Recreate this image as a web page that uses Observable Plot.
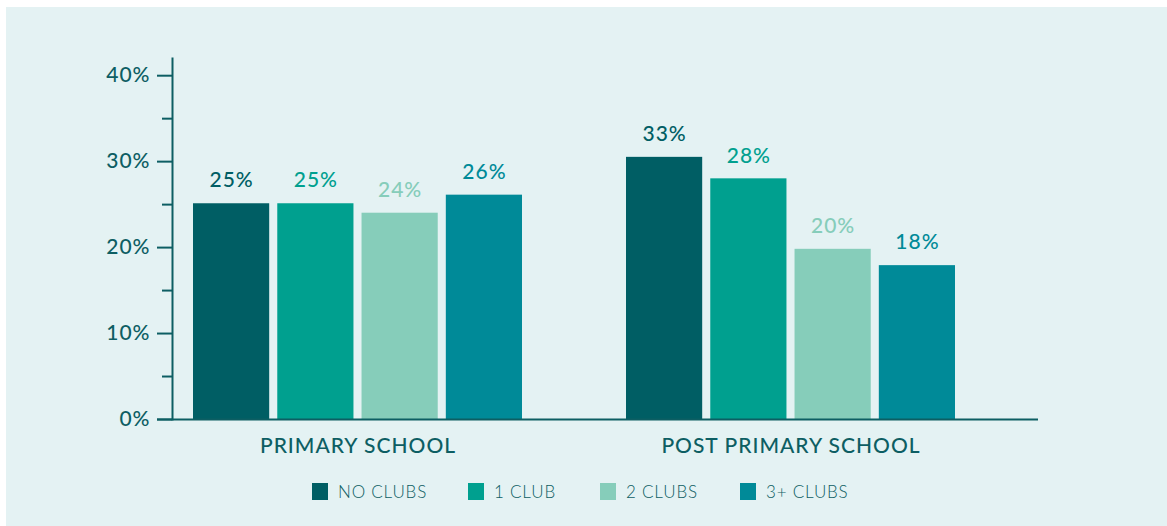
<!DOCTYPE html>
<html>
<head>
<meta charset="utf-8">
<script src="https://cdn.jsdelivr.net/npm/d3@7"></script>
<script src="https://cdn.jsdelivr.net/npm/@observablehq/plot@0.6"></script>
<style>
  html, body { margin: 0; padding: 0; background: #ffffff; }
  body { width: 1167px; height: 526px; position: relative; overflow: hidden; font-family: Lato, "Open Sans", sans-serif; }
  #panel { position: absolute; left: 6px; top: 7px; right: 0; bottom: 0; background: #e4f2f3; }
  #chart { position: absolute; left: 0; top: 0; }
  #legend { position: absolute; left: 0; top: 481px; width: 1167px; height: 18px; }
  .item { position: absolute; top: 0; display: flex; align-items: center; font-size: 17px; font-weight: 300; letter-spacing: 0.8px; color: #0d5e63; white-space: nowrap; }
  .sw { width: 16px; height: 17px; margin-right: 10px; }
  #chart text { letter-spacing: 1px; }
</style>
</head>
<body>
<div id="panel"></div>
<div id="chart"></div>
<div id="legend"></div>
<script>
// ---- data ----
const groups = ["PRIMARY SCHOOL", "POST PRIMARY SCHOOL"];
const series = ["NO CLUBS", "1 CLUB", "2 CLUBS", "3+ CLUBS"];
const colors = ["#005e64", "#00a08f", "#86cdba", "#008a98"];
// bar heights as drawn (percent)
const primaryValues = [25.1, 25.1, 24.0, 26.1];
const postPrimaryValues = [30.5, 28.0, 19.8, 17.9];
// labels as printed
const primaryLabels = ["25%", "25%", "24%", "26%"];
const postPrimaryLabels = ["33%", "28%", "20%", "18%"];
const yTicks = [0, 10, 20, 30, 40];
const yMinorTicks = [5, 15, 25, 35];
const legendX = [312, 468, 600, 740];

const rows = [];
groups.forEach((g, gi) => {
  const vals = gi === 0 ? primaryValues : postPrimaryValues;
  const labs = gi === 0 ? primaryLabels : postPrimaryLabels;
  series.forEach((s, si) => rows.push({group: g, series: s, si, value: vals[si], label: labs[si], color: colors[si]}));
});

const axisColor = "#0d5e63";
const W = 1167, H = 470;
const xRange = [141, 1007];
const padIn = 0.24, padOut = 0.12;
const step = (xRange[1] - xRange[0]) / (groups.length - padIn + 2 * padOut);
const bandW = step * (1 - padIn);
const subPad = 0.095;
const subStep = bandW / (series.length - subPad);
const subW = subStep * (1 - subPad);

const marks = [];
series.forEach((s, si) => {
  const left = si * subStep;
  const right = bandW - (left + subW);
  const d = rows.filter(r => r.si === si);
  marks.push(Plot.barY(d, {x: "group", y: "value", fill: colors[si], insetLeft: left, insetRight: right}));
  marks.push(Plot.text(d, {x: "group", y: "value", text: "label", fill: colors[si], dx: left + subW / 2 - bandW / 2, dy: -23, fontSize: 21, fontWeight: 500}));
});

const plot = Plot.plot({
  width: W,
  height: H,
  marginTop: 58,
  marginBottom: H - 419,
  marginLeft: 172,
  marginRight: W - 1038,
  style: {background: "transparent", fontFamily: "Lato, 'Open Sans', sans-serif", color: axisColor},
  x: {domain: groups, range: xRange, paddingInner: padIn, paddingOuter: padOut, align: 0.5, label: null},
  y: {domain: [0, 42], label: null},
  marks: [
    ...marks,
    Plot.axisY({ticks: yTicks, tickSize: 15, tickPadding: 7, tickFormat: d => d + "%", fontSize: 21, fontWeight: 500, stroke: axisColor, strokeWidth: 2, fill: axisColor, label: null}),
    Plot.axisY({ticks: yMinorTicks, tickSize: 10, tickFormat: () => "", stroke: axisColor, strokeWidth: 2, label: null}),
    Plot.axisX({tickSize: 0, tickPadding: 19, fontSize: 21, fontWeight: 500, fill: axisColor, label: null}),
    Plot.frame({anchor: "left", stroke: axisColor, strokeWidth: 2}),
    Plot.ruleY([0], {stroke: axisColor, strokeWidth: 2, insetLeft: -15})
  ]
});
document.getElementById("chart").appendChild(plot);

const legend = document.getElementById("legend");
series.forEach((s, i) => {
  const it = document.createElement("div");
  it.className = "item";
  it.style.left = legendX[i] + "px";
  const sw = document.createElement("span");
  sw.className = "sw";
  sw.style.background = colors[i];
  const t = document.createElement("span");
  t.textContent = s;
  it.appendChild(sw); it.appendChild(t);
  legend.appendChild(it);
});
</script>
</body>
</html>
